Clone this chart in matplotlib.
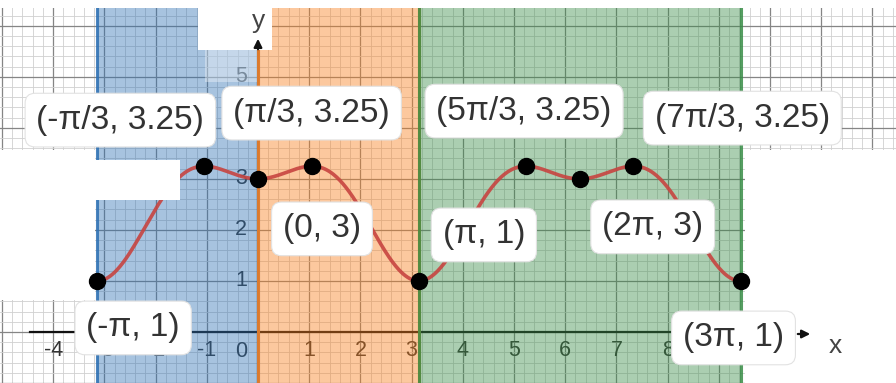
import numpy as np
import matplotlib
matplotlib.use("Agg")
import matplotlib.pyplot as plt
from matplotlib.patches import Rectangle
from matplotlib.transforms import Affine2D

pi = np.pi

# Marked points on the curve and their labels
point_x = [-pi, -pi / 3, 0, pi / 3, pi, 5 * pi / 3, 2 * pi, 7 * pi / 3, 3 * pi]
point_y = [1, 3.25, 3, 3.25, 1, 3.25, 3, 3.25, 1]
point_labels = ["(-π, 1)", "(-π/3, 3.25)", "(0, 3)", "(π/3, 3.25)", "(π, 1)",
                "(5π/3, 3.25)", "(2π, 3)", "(7π/3, 3.25)", "(3π, 1)"]

# Shaded intervals on x
region_bounds = [(-pi, 0), (0, pi), (pi, 3 * pi)]
region_colors = ["#2d70b3", "#fa7e19", "#388c46"]

x_tick_values = [-4, -3, -2, -1, 1, 2, 3, 4, 5, 6, 7, 8]
y_tick_values = [1, 2, 3, 5]


def f(x):
    return 3 + np.cos(x) - np.cos(x) ** 2


# layout: label offsets (pixels, from each point)
label_offsets = [(36, -47), (-84, 46), (64, -50), (0, 53), (65, 46),
                 (-2, 55), (73, -48), (109, 48), (-7, -57)]

W, H = 896, 383
fig = plt.figure(figsize=(W / 100, H / 100), dpi=100)
ax = fig.add_axes([0, 0, 1, 1])
X0, SX = 258, 51.2
Y0, SY = 335, 51.5
ax.set_xlim(-X0 / SX, (W - X0) / SX)
ax.set_ylim(-(H - Y0) / SY, Y0 / SY)

# pixel coordinates with origin top-left
pix = Affine2D().scale(1, -1).translate(0, H)

# grid
ax.set_axisbelow(True)
ax.set_xticks(np.arange(-5, 13))
ax.set_yticks(np.arange(-1, 7))
ax.set_xticks(np.arange(-5, 12.6, 0.2), minor=True)
ax.set_yticks(np.arange(-1, 6.6, 0.2), minor=True)
ax.grid(which="major", color="#858585", lw=0.9)
ax.grid(which="minor", color="#d0d0d0", lw=0.6)
ax.tick_params(which="both", length=0, labelbottom=False, labelleft=False)
for s in ax.spines.values():
    s.set_visible(False)

# axes lines
ax.plot([(30 - X0) / SX, 13], [0, 0], color="#111111", lw=1.6, zorder=0.6)
ax.plot([0, 0], [-2, (Y0 - 50) / SY], color="#111111", lw=1.6, zorder=0.6)

# tick labels
tick_kw = dict(fontsize=15.5, color="#333333", family="Liberation Sans", zorder=0.7)
for v in x_tick_values:
    ax.annotate(str(v), xy=(v, 0), xytext=(0, -19), textcoords="offset pixels",
                ha="center", va="center", **tick_kw)
for v in y_tick_values:
    ax.annotate(str(v), xy=(0, v), xytext=(-11, 0), textcoords="offset pixels",
                ha="right", va="center", **tick_kw)
ax.annotate("0", xy=(0, 0), xytext=(-11, -20), textcoords="offset pixels",
            ha="right", va="center", **tick_kw)

# shaded intervals with boundary lines
for (a, b), c in zip(region_bounds, region_colors):
    ax.axvspan(a, b, color=c, alpha=0.42, lw=0, zorder=1)
for (a, b), c in zip(region_bounds, region_colors):
    ax.axvline(a, color=c, lw=2.2, alpha=0.85, zorder=1.2)
    ax.axvline(b, color=c, lw=2.2, alpha=0.85, zorder=1.2)

# curve
xs = np.linspace(-pi, 3 * pi, 600)
ax.plot(xs, f(xs), color="#c74440", lw=2.6, alpha=0.9, zorder=2,
        solid_capstyle="round")

# white patches
for (x0, y0, x1, y1, a) in [(0, 0, W, 8, 1), (198, 8, 272, 50, 1),
                            (205, 50, 257, 82, 0.35),
                            (0, 150, 95, 300, 1), (0, 160, 180, 200, 1),
                            (745, 150, W, H, 1)]:
    ax.add_patch(Rectangle((x0, y0), x1 - x0, y1 - y0, transform=pix,
                           facecolor="white", edgecolor="none", alpha=a,
                           zorder=2.5))

# points
ax.plot(point_x, point_y, "o", color="black", ms=11.5, zorder=3)

# labels
for x, y, t, (dx, dy) in zip(point_x, point_y, point_labels, label_offsets):
    ax.annotate(t, xy=(x, y), xytext=(dx, dy), textcoords="offset pixels",
                ha="center", va="center", fontsize=24, color="#333333",
                family="Liberation Sans", zorder=4,
                bbox=dict(boxstyle="round,pad=0.34,rounding_size=0.3",
                          facecolor="white", edgecolor="#e2e2e2", lw=0.8))

# axis arrows and names
ax.annotate("", xy=(813, 334), xytext=(795, 334), xycoords=pix, textcoords=pix,
            arrowprops=dict(arrowstyle="-|>", color="#111111", lw=1.6,
                            mutation_scale=12), zorder=4.5)
ax.annotate("", xy=(258, 36), xytext=(258, 52), xycoords=pix, textcoords=pix,
            arrowprops=dict(arrowstyle="-|>", color="#111111", lw=1.6,
                            mutation_scale=12), zorder=4.5)
ax.text(835, 346, "x", transform=pix, ha="center", va="center", fontsize=19,
        color="#444444", family="Liberation Sans", zorder=4.5)
ax.text(259, 21, "y", transform=pix, ha="center", va="center", fontsize=19,
        color="#444444", family="Liberation Sans", zorder=4.5)

fig.savefig("out.png", dpi=100)
